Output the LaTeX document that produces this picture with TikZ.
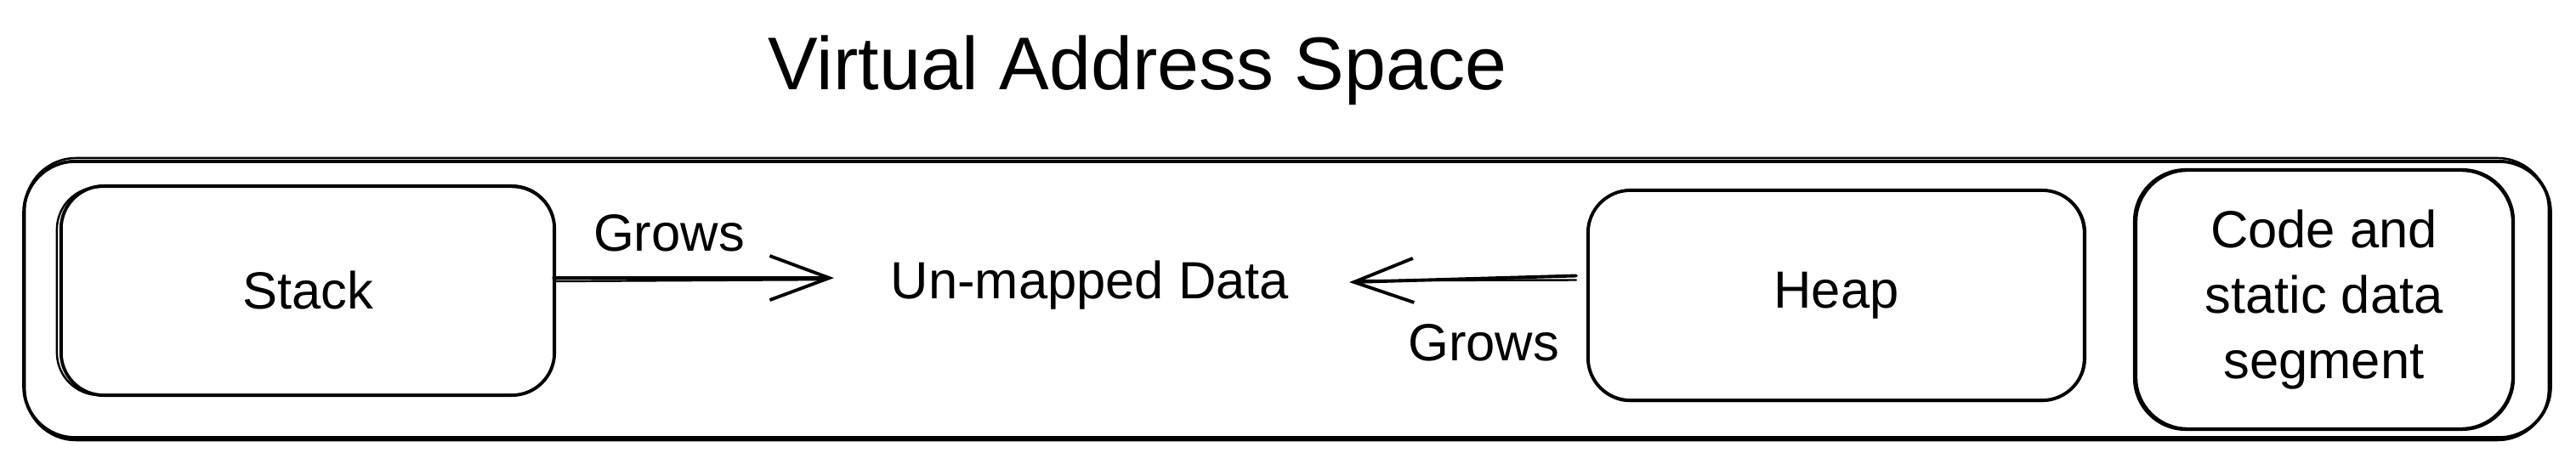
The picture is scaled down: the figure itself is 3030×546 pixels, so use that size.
\documentclass[tikz,border=0pt]{standalone}
\usepackage{fontspec}
\setmainfont{Liberation Sans}
\usetikzlibrary{arrows.meta}
\begin{document}
\begin{tikzpicture}[x=0.01cm,y=-0.01cm,
  box/.style={draw, line width=1.1pt, inner sep=0pt, align=center,
    font=\fontsize{17.5}{22}\selectfont},
  sk/.style={line width=0.7pt},
  lbl/.style={inner sep=0pt, anchor=base, font=\fontsize{17.5}{22}\selectfont},
  arr/.style={-{Straight Barb[length=7mm,width=5.2mm]}, line width=1.1pt},
  line cap=round, line join=round]
\useasboundingbox (0,0) rectangle (3030,546);

% title
\node[inner sep=0pt, anchor=base, font=\fontsize{25}{30}\selectfont] (title) at (1338,106) {Virtual Address Space};

% outer box
\node[box, rounded corners=0.6cm, minimum width=29.7cm, minimum height=3.25cm] (outer) at (1514,352.5) {};
\draw[sk, rounded corners=0.6cm] ([shift={(3,-2)}]outer.north west) rectangle ([shift={(-4,1)}]outer.south east);

% stack
\node[box, rounded corners=0.5cm, minimum width=5.8cm, minimum height=2.46cm] (stack) at (362,342) {Stack};
\draw[sk, rounded corners=0.5cm] ([shift={(-3,3)}]stack.north west) rectangle ([shift={(-2,-2)}]stack.south east);

% heap
\node[box, rounded corners=0.5cm, minimum width=5.84cm, minimum height=2.47cm] (heap) at (2160,347.5) {Heap};
\draw[sk, rounded corners=0.5cm] ([shift={(2,2)}]heap.north west) rectangle ([shift={(-3,-1)}]heap.south east);

% code segment
\node[box, rounded corners=0.6cm, minimum width=4.45cm, minimum height=3.05cm] (code) at (2733.5,352.5) {Code and\\static data\\segment};
\draw[sk, rounded corners=0.6cm] ([shift={(4,3)}]code.north west) rectangle ([shift={(-3,-3)}]code.south east);

% unmapped
\node[lbl] (unmapped) at (1282,352) {Un-mapped Data};
\coordinate (u1) at ([shift={(-66,-9)}]unmapped.west);
\coordinate (u2) at ([shift={(70,-4)}]unmapped.east);

% arrows
\draw[arr] ([shift={(-3,-15)}]stack.east) -- (u1);
\draw[sk] ([shift={(-3,-11)}]stack.east) -- ([shift={(-12,2)}]u1);
\draw[arr] ([shift={(-12,-23)}]heap.west) -- (u2);
\draw[sk] ([shift={(-12,-18)}]heap.west) -- ([shift={(12,-2)}]u2);

% labels
\node[lbl] (g1) at (787,296) {Grows};
\node[lbl] (g2) at (1745,425) {Grows};
\end{tikzpicture}
\end{document}
